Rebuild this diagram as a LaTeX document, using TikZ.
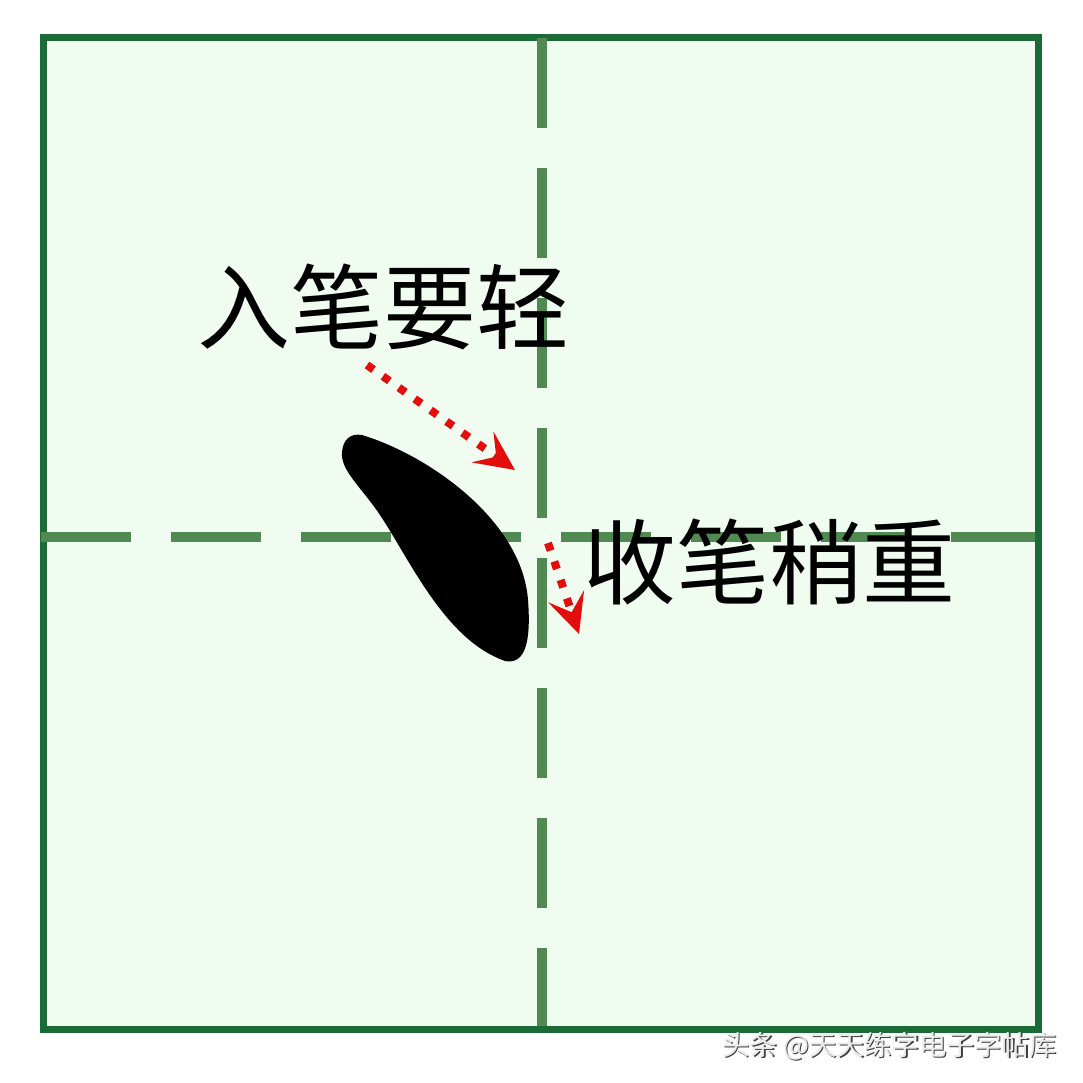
\documentclass[tikz,border=0pt]{standalone}
\usepackage{fontspec}
\newfontfamily\cjk{Noto Sans CJK SC}
\usetikzlibrary{arrows.meta}
\definecolor{gridfill}{HTML}{EFFCEF}
\definecolor{borderg}{HTML}{1B6B36}
\definecolor{dashg}{HTML}{508A52}
\definecolor{dotred}{HTML}{E30D0D}
\tikzset{
  guide/.style={draw=dashg, line width=10pt, dash pattern=on 90pt off 40pt},
  dotarrow/.style={draw=dotred, line width=8pt, dash pattern=on 8pt off 11.5pt,
    -{Stealth[length=40pt,width=38pt,inset=17pt,fill=dotred,line width=0pt]}},
  label/.style={font=\cjk\fontsize{93}{93}\selectfont, text=black, inner sep=0pt},
  wm/.style={font=\cjk\fontsize{27.5}{27.5}\selectfont, inner sep=0pt, anchor=west}
}
\begin{document}
\begin{tikzpicture}[x=1pt,y=-1pt]
\useasboundingbox (0,0) rectangle (1083,1083);
\fill[white] (0,0) rectangle (1083,1083);
% paper
\filldraw[fill=gridfill, draw=borderg, line width=7pt] (43.5,38) rectangle (1038.5,1029.5);
% guide lines
\coordinate (hl) at (41,537);
\coordinate (hr) at (1035,537);
\coordinate (vt) at (542,38);
\coordinate (vb) at (542,1026);
\draw[guide] (hl) -- (hr);
\draw[guide] (vt) -- (vb);
% stroke
\fill[black] (362,435)
  .. controls (428,455) and (522,520) .. (528,600)
  .. controls (531,640) and (526,665) .. (505,661)
  .. controls (445,640) and (410,560) .. (380,515)
  .. controls (362,488) and (340,470) .. (342,452)
  .. controls (343,440) and (350,433) .. (362,435) -- cycle;
% labels
\node[label] (t1) at (383,307) {入笔要轻};
\node[label] (t2) at (769,562) {收笔稍重};
% arrows
\coordinate (a1s) at (367,365);
\coordinate (a1e) at (515,470);
\coordinate (a2s) at (548,543);
\coordinate (a2e) at (579,634);
\draw[dotarrow] (a1s) -- (a1e);
\draw[dotarrow] (a2s) -- (a2e);
% watermark
\node[wm, text=black!75] (wms) at (723.5,1047.5) {头条 @天天练字电子字帖库};
\node[wm, text=white!92!black] (wm) at (722,1046) {头条 @天天练字电子字帖库};
\end{tikzpicture}
\end{document}
